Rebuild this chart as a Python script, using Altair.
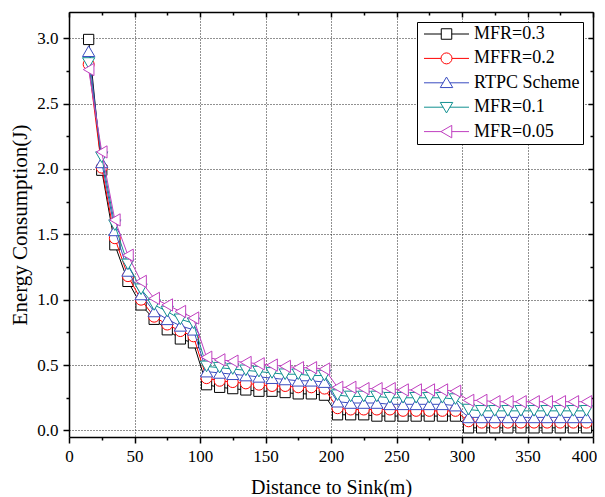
import altair as alt
import pandas as pd

# ---------------- data ----------------
x_dist = list(range(15, 400, 10))  # 15, 25, ..., 395

series_names = ["MFR=0.3", "MFFR=0.2", "RTPC Scheme", "MFR=0.1", "MFR=0.05"]
series_colors = ["#000000", "#FF0000", "#3A4CC0", "#119090", "#C040C0"]

mfr03 = [2.99, 1.99, 1.42, 1.14, 0.96, 0.85, 0.77, 0.70, 0.67,
         0.35, 0.33, 0.32, 0.31, 0.30, 0.30, 0.29, 0.28, 0.28, 0.27,
         0.12, 0.12, 0.12, 0.11, 0.11, 0.11, 0.11, 0.11, 0.11, 0.11,
         0.02, 0.02, 0.02, 0.02, 0.02, 0.02, 0.02, 0.02, 0.02, 0.02]
mffr02 = [2.80, 2.01, 1.47, 1.18, 1.00, 0.87, 0.81, 0.76, 0.72,
          0.40, 0.38, 0.37, 0.36, 0.35, 0.34, 0.34, 0.33, 0.33, 0.32,
          0.17, 0.16, 0.16, 0.16, 0.16, 0.15, 0.15, 0.15, 0.15, 0.15,
          0.07, 0.06, 0.06, 0.06, 0.06, 0.06, 0.06, 0.06, 0.06, 0.06]
rtpc = [2.90, 2.05, 1.53, 1.22, 1.04, 0.91, 0.85, 0.80, 0.77,
        0.45, 0.44, 0.43, 0.42, 0.41, 0.40, 0.39, 0.38, 0.38, 0.37,
        0.22, 0.21, 0.21, 0.21, 0.20, 0.20, 0.20, 0.20, 0.20, 0.19,
        0.10, 0.10, 0.10, 0.10, 0.10, 0.10, 0.10, 0.10, 0.10, 0.10]
mfr01 = [2.81, 2.09, 1.57, 1.27, 1.08, 0.96, 0.91, 0.85, 0.82,
         0.49, 0.48, 0.47, 0.46, 0.45, 0.44, 0.43, 0.43, 0.42, 0.42,
         0.27, 0.26, 0.26, 0.26, 0.25, 0.25, 0.25, 0.25, 0.25, 0.24,
         0.16, 0.15, 0.15, 0.15, 0.15, 0.15, 0.15, 0.15, 0.15, 0.15]
mfr005 = [2.76, 2.13, 1.61, 1.34, 1.14, 1.01, 0.96, 0.91, 0.86,
          0.56, 0.54, 0.53, 0.52, 0.51, 0.50, 0.49, 0.48, 0.48, 0.47,
          0.33, 0.33, 0.32, 0.32, 0.32, 0.31, 0.31, 0.31, 0.31, 0.30,
          0.23, 0.23, 0.22, 0.22, 0.22, 0.22, 0.22, 0.22, 0.22, 0.22]
series_values = [mfr03, mffr02, rtpc, mfr01, mfr005]

x_major = [0, 50, 100, 150, 200, 250, 300, 350, 400]
x_minor = [25, 75, 125, 175, 225, 275, 325, 375]
y_major = [0.0, 0.5, 1.0, 1.5, 2.0, 2.5, 3.0]
y_minor = [0.25, 0.75, 1.25, 1.75, 2.25, 2.75]

# ---------------- styles ----------------
marker_shapes = ["square", "circle", "triangle-up", "triangle-down", "triangle-left"]
marker_sizes = [105, 120, 150, 150, 150]
# legend symbols (unit = 5 px): line from -1 to 8, marker centred at 3.5
legend_paths = [
    "M-1,0H2.45M4.55,0H8M2.45,-1.05H4.55V1.05H2.45Z",
    "M-1,0H2.4M4.6,0H8M2.4,0A1.1,1.1 0 1,1 4.6,0A1.1,1.1 0 1,1 2.4,0Z",
    "M-1,0H2.85M4.15,0H8M3.5,-1.15L4.75,0.95L2.25,0.95Z",
    "M-1,0H2.85M4.15,0H8M3.5,1.15L4.75,-0.95L2.25,-0.95Z",
    "M-1,0H2.4M4.55,0H8M2.4,0L4.55,-1.25L4.55,1.25Z",
]

rows = []
for name, vals in zip(series_names, series_values):
    for xv, yv in zip(x_dist, vals):
        rows.append({"dist": xv, "energy": yv, "series": name})
df = pd.DataFrame(rows)

W, H = 524, 425
FONT = "Liberation Serif"

xscale = alt.Scale(domain=[0, 400], nice=False, zero=False)
yscale = alt.Scale(domain=[-0.05, 3.2], nice=False, zero=False)

base = alt.Chart(df)

# main axes (bottom / left) with labels, titles and grid
main_axes = base.mark_point(opacity=0).encode(
    x=alt.X("dist:Q", scale=xscale, title="Distance to Sink(m)",
            axis=alt.Axis(orient="bottom", values=x_major, format="d",
                          labelFont=FONT, labelFontSize=17, labelPadding=5,
                          labelColor="black",
                          labelOffset={"condition": {"test": "datum.value == 400",
                                                     "value": -9},
                                       "value": 0},
                          tickSize=6, tickWidth=1.5, tickColor="black",
                          domainWidth=1.5, domainColor="black",
                          grid=True, gridDash=[1, 2], gridColor="#222222",
                          gridWidth=1, gridOpacity=1,
                          titleFont=FONT, titleFontSize=20, titleColor="black",
                          titleFontWeight="normal", titlePadding=13,
                          labelFlush=False)),
    y=alt.Y("energy:Q", scale=yscale, title="Energy Consumption(J)",
            axis=alt.Axis(orient="left", values=y_major, format=".1f",
                          labelFont=FONT, labelFontSize=17, labelPadding=5,
                          labelColor="black",
                          tickSize=6, tickWidth=1.5, tickColor="black",
                          domainWidth=1.5, domainColor="black",
                          grid=True, gridDash=[1, 2], gridColor="#222222",
                          gridWidth=1, gridOpacity=1,
                          titleFont=FONT, titleFontSize=21, titleColor="black",
                          titleFontWeight="normal", titlePadding=6,
                          labelFlush=False)),
)

# minor ticks bottom / left
minor_axes = base.mark_point(opacity=0).encode(
    x=alt.X("dist:Q", scale=xscale, title=None,
            axis=alt.Axis(orient="bottom", values=x_minor, labels=False,
                          domain=False, grid=False, tickSize=3, tickWidth=1.5,
                          tickColor="black")),
    y=alt.Y("energy:Q", scale=yscale, title=None,
            axis=alt.Axis(orient="left", values=y_minor, labels=False,
                          domain=False, grid=False, tickSize=3, tickWidth=1.5,
                          tickColor="black")),
)

# mirrored axes (top / right), ticks pointing inward
mirror_major = base.mark_point(opacity=0).encode(
    x=alt.X("dist:Q", scale=xscale, title=None,
            axis=alt.Axis(orient="bottom", offset=-H, values=x_major,
                          labels=False, grid=False, tickSize=5, tickWidth=1.5,
                          tickColor="black", domainColor="black",
                          domainWidth=1.5)),
    y=alt.Y("energy:Q", scale=yscale, title=None,
            axis=alt.Axis(orient="left", offset=-W, values=y_major,
                          labels=False, grid=False, tickSize=5, tickWidth=1.5,
                          tickColor="black", domainColor="black",
                          domainWidth=1.5)),
)
mirror_minor = base.mark_point(opacity=0).encode(
    x=alt.X("dist:Q", scale=xscale, title=None,
            axis=alt.Axis(orient="bottom", offset=-H, values=x_minor,
                          labels=False, domain=False, grid=False, tickSize=3,
                          tickWidth=1.5, tickColor="black")),
    y=alt.Y("energy:Q", scale=yscale, title=None,
            axis=alt.Axis(orient="left", offset=-W, values=y_minor,
                          labels=False, domain=False, grid=False, tickSize=3,
                          tickWidth=1.5, tickColor="black")),
)

series_layers = []
for name, col, shp, sz in zip(series_names, series_colors, marker_shapes, marker_sizes):
    sub = base.transform_filter(alt.datum.series == name)
    ln = sub.mark_line(color=col, strokeWidth=1).encode(
        x=alt.X("dist:Q", scale=xscale, axis=None),
        y=alt.Y("energy:Q", scale=yscale, axis=None),
    )
    pt = sub.mark_point(shape=shp, size=sz, filled=True, fill="white",
                        stroke=col, strokeWidth=1, opacity=1).encode(
        x=alt.X("dist:Q", scale=xscale, axis=None),
        y=alt.Y("energy:Q", scale=yscale, axis=None),
    )
    series_layers += [ln, pt]

legend_kw = dict(orient="none", legendX=348, legendY=10, title=None,
                 labelFont=FONT, labelFontSize=18, labelColor="black",
                 symbolSize=100, symbolStrokeWidth=1, symbolOpacity=1,
                 symbolFillColor="white",
                 strokeColor="black", fillColor="white", padding=3,
                 rowPadding=6.4, labelOffset=36, labelLimit=300)

legend_layer = base.transform_filter("false").mark_point(
    size=100, filled=False, strokeWidth=1, opacity=1).encode(
    x=alt.X("dist:Q", scale=xscale, axis=None),
    y=alt.Y("energy:Q", scale=yscale, axis=None),
    color=alt.Color("series:N",
                    scale=alt.Scale(domain=series_names, range=series_colors),
                    legend=alt.Legend(**legend_kw)),
    shape=alt.Shape("series:N",
                    scale=alt.Scale(domain=series_names, range=legend_paths),
                    legend=alt.Legend(**legend_kw)),
)

chart = alt.layer(
    main_axes, minor_axes, mirror_major, mirror_minor,
    *series_layers, legend_layer
).resolve_axis(
    x="independent", y="independent"
).resolve_scale(
    x="shared", y="shared"
).properties(
    width=W, height=H,
    autosize=alt.AutoSizeParams(type="none"),
    padding={"left": 61, "top": 4, "right": 4, "bottom": 62},
    background="white",
).configure(
    font=FONT
).configure_axis(
    labelFont=FONT, titleFont=FONT
).configure_legend(
    labelFont=FONT, titleFont=FONT
).configure_view(stroke=None)

chart.save("out.html", embed_options={"renderer": "svg", "actions": False})
